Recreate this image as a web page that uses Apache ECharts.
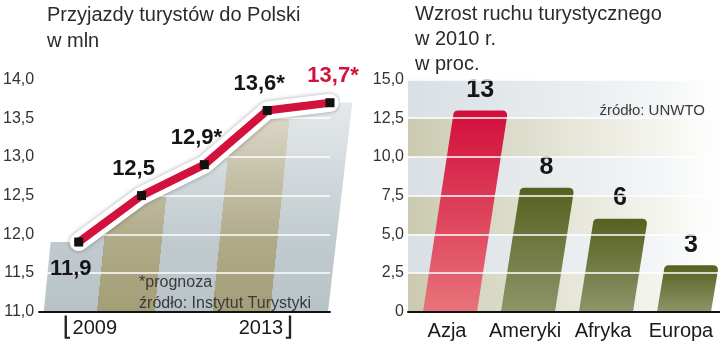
<!DOCTYPE html>
<html><head><meta charset="utf-8">
<script src="https://cdn.jsdelivr.net/npm/echarts@6/dist/echarts.min.js"></script>
<style>html,body{margin:0;padding:0;background:#fff}#c{width:720px;height:344px}</style>
</head><body><div id="c"></div>
<script>
// ---- data ----
const years = [2009, 2010, 2011, 2012, 2013];
const arrivals = [11.9, 12.5, 12.9, 13.6, 13.7];
const forecast = [false, false, true, true, true];
const yearLabels = [2009, 2013];
const leftTicks = [11.0, 11.5, 12.0, 12.5, 13.0, 13.5, 14.0];
const regions = ['Azja', 'Ameryki', 'Afryka', 'Europa'];
const growth = [13, 8, 6, 3];
const rightTicks = [0, 2.5, 5.0, 7.5, 10.0, 12.5, 15.0];

// ---- style ----
const F = "'Liberation Sans', Arial, sans-serif";
const RED = '#d2123c';
const fmt = v => (v === 0 ? '0' : v.toFixed(1).replace('.', ','));
const SKEW_L = 0.1, SKEW_R = 0.15;
const xMinL = 2008.37;

const barColors = [
  ['#d20e3b', '#e8737a'],
  ['#566120', '#8d9569'],
  ['#566120', '#8d9569'],
  ['#566120', '#8d9569']
];
const band = (c0, c1) => ({type: 'linear', x: 0, y: 0, x2: 1, y2: 0,
  colorStops: [{offset: 0, color: c0}, {offset: 0.8, color: c1}, {offset: 1, color: '#ffffff'}]});

function bgRender(params, api) {
  if (params.dataIndex !== 0) return null;
  const pts = years.map((y, i) => api.coord([y, arrivals[i]]));
  const base = api.coord([xMinL, leftTicks[0]]);
  const y0 = base[1];
  const yTop = api.coord([xMinL, leftTicks[leftTicks.length - 1]])[1];
  const first = pts[0], last = pts[pts.length - 1];
  const xLb = first[0] - 35, xRb = last[0] - 2;
  const poly = [[xLb, y0], [xLb + SKEW_L * (y0 - first[1]), first[1]]]
    .concat(pts)
    .concat([[xRb + 0.115 * (y0 - last[1]), last[1]], [xRb, y0]]);
  const a = base[0];
  const L = (xRb - a) / (1 + SKEW_L * SKEW_L);
  const g = '#b8c3c8', k = '#a49e77';
  const stops = [];
  [g, k, g, k, g].forEach((c, i) => {
    stops.push({offset: i / 5, color: c});
    stops.push({offset: (i + 1) / 5, color: c});
  });
  return {
    type: 'group',
    children: [
      {type: 'polygon', shape: {points: poly},
        style: {fill: {type: 'linear', global: true, x: a, y: y0, x2: a + L, y2: y0 + L * SKEW_L, colorStops: stops}}},
      {type: 'polygon', shape: {points: poly},
        style: {fill: {type: 'linear', global: true, x: 0, y: y0, x2: 0, y2: yTop,
          colorStops: [{offset: 0, color: 'rgba(255,255,255,0)'}, {offset: 0.3, color: 'rgba(255,255,255,0.12)'},
                       {offset: 1, color: 'rgba(255,255,255,0.72)'}]}}}
    ]
  };
}

function barRender(params, api) {
  const i = params.dataIndex;
  const v = api.value(1);
  const b = api.coord([api.value(0), 0]);
  const t = api.coord([api.value(0), v]);
  const w = 54, off = 3, r = 5;
  const h = b[1] - t[1];
  const dx = SKEW_R * h;
  const xl = b[0] + off - w / 2, xr = xl + w, yb = b[1], yt = t[1];
  const d = `M${xl},${yb} L${xl + dx},${yt + r} Q${xl + dx},${yt} ${xl + dx + r},${yt} ` +
            `L${xr + dx - r},${yt} Q${xr + dx},${yt} ${xr + dx},${yt + r} L${xr},${yb} Z`;
  return {
    type: 'group',
    children: [
      {type: 'path', shape: {pathData: d},
        style: {fill: {type: 'linear', global: true, x: 0, y: yt, x2: 0, y2: yb,
          colorStops: [{offset: 0, color: barColors[i][0]}, {offset: 1, color: barColors[i][1]}]}}},
      {type: 'text', x: (xl + xr) / 2 + dx, y: yt - 8,
        style: {text: String(v), fill: '#151515', font: `bold 25px ${F}`, align: 'center', verticalAlign: 'bottom'}}
    ]
  };
}

const lineData = arrivals.map((v, i) => ({
  value: [years[i], v],
  label: {
    position: i === 0 ? 'bottom' : 'top',
    distance: 11,
    offset: i === arrivals.length - 1 ? [3, 0] : [-8, 0],
    color: i === arrivals.length - 1 ? RED : '#151515'
  }
}));

const chart = echarts.init(document.getElementById('c'), null, {renderer: 'canvas'});
chart.setOption({
  animation: false,
  backgroundColor: '#fff',
  textStyle: {fontFamily: F},
  title: [
    {text: 'Przyjazdy turystów do Polski\nw mln', left: 42, top: -3,
      textStyle: {fontFamily: F, fontSize: 20, fontWeight: 'normal', color: '#2b2b2b', lineHeight: 26}},
    {text: 'Wzrost ruchu turystycznego\nw 2010 r.\nw proc.', left: 410, top: -3,
      textStyle: {fontFamily: F, fontSize: 20, fontWeight: 'normal', color: '#2b2b2b', lineHeight: 25}},
    {text: '*prognoza\nźródło: Instytut Turystyki', right: 404, top: 267,
      textStyle: {fontFamily: F, fontSize: 16, fontWeight: 'normal', color: '#3a3a3a', lineHeight: 21, align: 'right'}},
    {text: 'źródło: UNWTO', right: 10, top: 98,
      textStyle: {fontFamily: F, fontSize: 15, fontWeight: 'normal', color: '#3a3a3a'}}
  ],
  grid: [
    {left: 37, right: 390, top: 79.5, bottom: 32.3},
    {left: 408, right: 0, top: 79.5, bottom: 32.3}
  ],
  xAxis: [
    {type: 'value', gridIndex: 0, min: xMinL, max: years[years.length - 1], z: 3,
      axisLine: {show: true, onZero: false, lineStyle: {color: '#111', width: 2}},
      axisTick: {show: false}, splitLine: {show: false},
      axisLabel: {customValues: yearLabels, margin: 4, fontSize: 20, color: '#1a1a1a', fontFamily: F,
        formatter: v => (v === yearLabels[0] ? '{s1|}{br|⌊}' + v : v + '{br|⌋}{s2|}'),
        rich: {s1: {width: 22}, s2: {width: 128},
          br: {fontFamily: 'DejaVu Sans', fontSize: 26, fontWeight: 'normal', color: '#222'}}}},
    {type: 'category', gridIndex: 1, data: regions, z: 4,
      axisLine: {show: true, lineStyle: {color: '#111', width: 2}},
      axisTick: {show: false},
      axisLabel: {interval: 0, margin: 10, fontSize: 20, color: '#1a1a1a', fontFamily: F}}
  ],
  yAxis: [
    {type: 'value', gridIndex: 0, min: leftTicks[0], max: leftTicks[leftTicks.length - 1], interval: 0.5, z: 3,
      axisLine: {show: false}, axisTick: {show: false},
      axisLabel: {formatter: fmt, fontSize: 16, color: '#333', margin: 5, fontFamily: F},
      splitLine: {lineStyle: {color: '#ffffff', width: 1.5}}},
    {type: 'value', gridIndex: 1, min: rightTicks[0], max: rightTicks[rightTicks.length - 1], interval: 2.5,
      axisLine: {show: false}, axisTick: {show: false},
      axisLabel: {formatter: fmt, fontSize: 16, color: '#333', margin: 4, fontFamily: F},
      splitLine: {show: false},
      splitArea: {show: true, areaStyle: {color: [band('#cbcab0', '#f4f4ee'), band('#d9dfe4', '#f3f5f6')]}}},
    {type: 'value', gridIndex: 1, min: rightTicks[0], max: rightTicks[rightTicks.length - 1], interval: 2.5, z: 3,
      axisLine: {show: false}, axisTick: {show: false}, axisLabel: {show: false},
      splitLine: {lineStyle: {color: '#ffffff', width: 1.5}}}
  ],
  series: [
    {type: 'custom', xAxisIndex: 0, yAxisIndex: 0, z: 2, silent: true,
      data: arrivals.map((v, i) => [years[i], v]), renderItem: bgRender},
    {type: 'line', xAxisIndex: 0, yAxisIndex: 0, z: 4, silent: true, symbol: 'none',
      data: arrivals.map((v, i) => [years[i], v]),
      lineStyle: {color: '#ffffff', width: 18, cap: 'round', join: 'round',
        shadowBlur: 4, shadowColor: 'rgba(0,0,0,0.35)'}},
    {type: 'line', xAxisIndex: 0, yAxisIndex: 0, z: 5, silent: true,
      data: lineData, symbol: 'rect', symbolSize: 9,
      itemStyle: {color: '#111'},
      lineStyle: {color: RED, width: 8, cap: 'round', join: 'round'},
      label: {show: true, fontFamily: F, fontSize: 22, fontWeight: 'bold',
        formatter: p => p.value[1].toFixed(1).replace('.', ',') + (forecast[p.dataIndex] ? '*' : '')}},
    {type: 'custom', xAxisIndex: 1, yAxisIndex: 1, z: 2, silent: true,
      data: growth.map((v, i) => [i, v]), renderItem: barRender}
  ]
});
</script></body></html>
